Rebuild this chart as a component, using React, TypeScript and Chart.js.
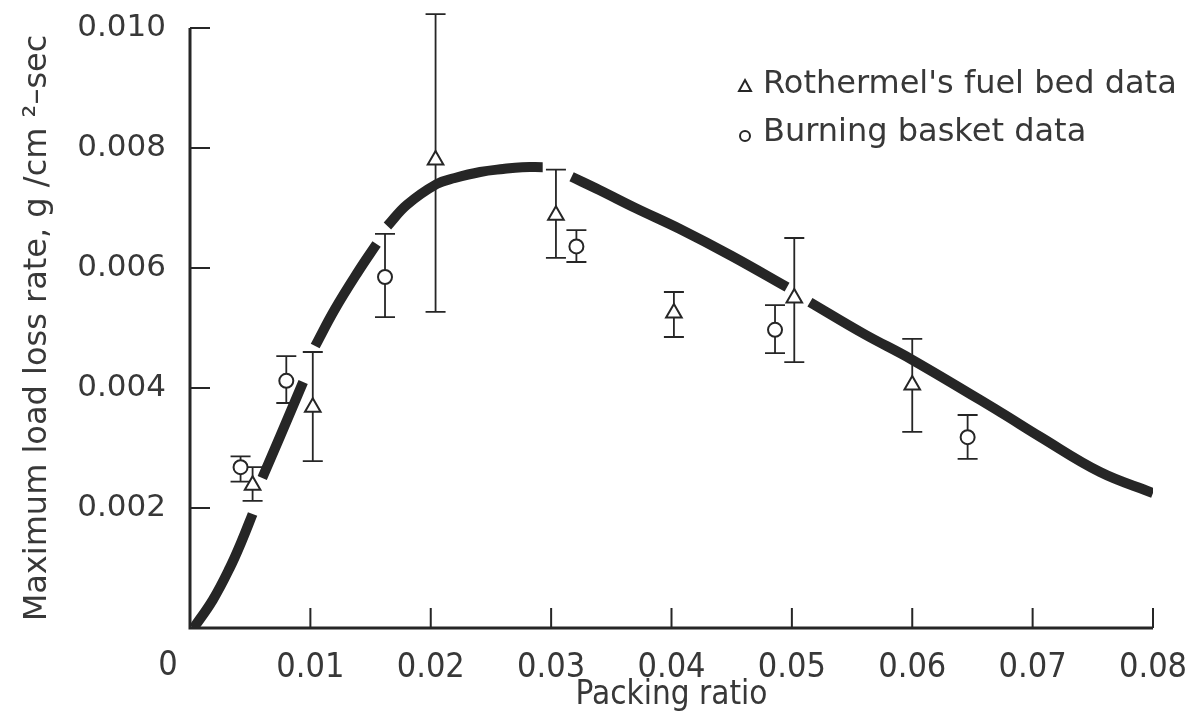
import React, { useEffect, useRef } from "react";
import { Chart, registerables } from "chart.js";
Chart.register(...registerables);

// Axis ticks
const xTickValues = [0, 0.01, 0.02, 0.03, 0.04, 0.05, 0.06, 0.07, 0.08];
const yTickValues = [0, 0.002, 0.004, 0.006, 0.008, 0.01];

// Rothermel's fuel bed data (triangles) with error bar limits
const rothX = [0.0052, 0.0102, 0.0204, 0.0304, 0.0402, 0.0502, 0.06];
const rothY = [0.00238, 0.00368, 0.0078, 0.00688, 0.00525, 0.0055, 0.00405];
const rothLo = [0.00212, 0.00278, 0.00527, 0.00617, 0.00485, 0.00443, 0.00327];
const rothHi = [0.00268, 0.0046, 0.01023, 0.00764, 0.0056, 0.0065, 0.00482];

// Burning basket data (circles) with error bar limits
const basketX = [0.0042, 0.008, 0.0162, 0.0321, 0.0486, 0.0646];
const basketY = [0.00268, 0.00412, 0.00585, 0.00636, 0.00497, 0.00318];
const basketLo = [0.00244, 0.00375, 0.00518, 0.0061, 0.00458, 0.00282];
const basketHi = [0.00286, 0.00453, 0.00657, 0.00663, 0.00538, 0.00355];

// Fitted curve (drawn with gaps; null = gap)
const curveX = [
  0.0003, 0.0019, 0.0033, 0.0043, 0.0052,
  0.0056,
  0.006, 0.0075, 0.0094,
  0.0099,
  0.0104, 0.012, 0.014, 0.0155,
  0.016,
  0.0164, 0.018, 0.0205, 0.022, 0.0241, 0.026, 0.0276, 0.0293,
  0.0305,
  0.0317, 0.034, 0.037, 0.0407, 0.045, 0.0496,
  0.0505,
  0.0515, 0.056, 0.06, 0.0673, 0.0706, 0.0756, 0.08,
];
const curveY = [
  0, 0.00047, 0.001, 0.00145, 0.0019,
  null,
  0.0025, 0.0032, 0.0041,
  null,
  0.0047, 0.0053, 0.00595, 0.0064,
  null,
  0.0067, 0.00705, 0.0074, 0.0075, 0.0076, 0.00765, 0.00768, 0.00768,
  null,
  0.00752, 0.0073, 0.007, 0.00665, 0.0062, 0.00568,
  null,
  0.00543, 0.0049, 0.00447, 0.0036, 0.00319, 0.0026, 0.00225,
];

const legendLabels = ["Rothermel's fuel bed data", "Burning basket data"];
const xTitle = "Packing ratio";
const yTitle = "Maximum load loss rate, g /cm \u00b2\u2013sec";

const INK = "#262626";
const TEXT = "#383838";
const FONT = "'DejaVu Sans', sans-serif";
const CONDENSED = "'DejaVu Sans Condensed', 'Liberation Sans Narrow', 'DejaVu Sans', sans-serif";

const errorBarsPlugin = {
  id: "errorBars",
  beforeDatasetsDraw(chart: any) {
    const ctx = chart.ctx;
    const xs = chart.scales.x;
    const ys = chart.scales.y;
    ctx.save();
    ctx.strokeStyle = INK;
    ctx.lineWidth = 1.8;
    chart.data.datasets.forEach((ds: any) => {
      if (!ds.lo) return;
      ds.data.forEach((p: any, i: number) => {
        const px = xs.getPixelForValue(p.x);
        const y1 = ys.getPixelForValue(ds.lo[i]);
        const y2 = ys.getPixelForValue(ds.hi[i]);
        const cap = 10;
        ctx.beginPath();
        ctx.moveTo(px, y1);
        ctx.lineTo(px, y2);
        ctx.moveTo(px - cap, y1);
        ctx.lineTo(px + cap, y1);
        ctx.moveTo(px - cap, y2);
        ctx.lineTo(px + cap, y2);
        ctx.stroke();
      });
    });
    ctx.restore();
  },
};

const axesPlugin = {
  id: "inwardAxes",
  afterDraw(chart: any) {
    const ctx = chart.ctx;
    const xs = chart.scales.x;
    const ys = chart.scales.y;
    const { left, bottom } = chart.chartArea;
    ctx.save();
    ctx.strokeStyle = INK;
    ctx.lineWidth = 3;
    ctx.beginPath();
    ctx.moveTo(left, ys.getPixelForValue(yTickValues[yTickValues.length - 1]));
    ctx.lineTo(left, bottom);
    ctx.lineTo(xs.getPixelForValue(xTickValues[xTickValues.length - 1]), bottom);
    ctx.stroke();
    ctx.lineWidth = 2;
    ctx.beginPath();
    yTickValues.forEach((v) => {
      if (v === 0) return;
      const py = ys.getPixelForValue(v);
      ctx.moveTo(left, py);
      ctx.lineTo(left + 20, py);
    });
    xTickValues.forEach((v) => {
      if (v === 0) return;
      const px = xs.getPixelForValue(v);
      ctx.moveTo(px, bottom);
      ctx.lineTo(px, bottom - 20);
    });
    ctx.stroke();
    // shared origin label
    ctx.fillStyle = TEXT;
    ctx.font = "34px " + CONDENSED;
    ctx.textAlign = "center";
    ctx.textBaseline = "middle";
    ctx.fillText("0", left - 22, bottom + 38);
    ctx.restore();
  },
};

const legendPlugin = {
  id: "innerLegend",
  afterDraw(chart: any) {
    const ctx = chart.ctx;
    const { left, top } = chart.chartArea;
    const mx = left + 555;
    const rows = [top + 57, top + 105];
    ctx.save();
    ctx.strokeStyle = INK;
    ctx.fillStyle = "#ffffff";
    ctx.lineWidth = 2;
    ctx.beginPath();
    ctx.moveTo(mx, rows[0] - 5);
    ctx.lineTo(mx + 6, rows[0] + 6);
    ctx.lineTo(mx - 6, rows[0] + 6);
    ctx.closePath();
    ctx.fill();
    ctx.stroke();
    ctx.beginPath();
    ctx.arc(mx, rows[1] + 3, 5, 0, Math.PI * 2);
    ctx.fill();
    ctx.stroke();
    ctx.fillStyle = TEXT;
    ctx.font = "32px " + FONT;
    ctx.textAlign = "left";
    ctx.textBaseline = "middle";
    ctx.fillText(legendLabels[0], mx + 18, rows[0]);
    ctx.fillText(legendLabels[1], mx + 18, rows[1]);
    ctx.restore();
  },
};

const noOverflow = (s: any) => {
  s.paddingTop = 0;
  s.paddingBottom = 0;
  s.paddingLeft = 0;
  s.paddingRight = 0;
};

export default function App() {
  const ref = useRef<HTMLCanvasElement | null>(null);
  useEffect(() => {
    document.body.style.margin = "0";
    const canvas = ref.current;
    if (!canvas) return;
    const chart = new Chart(canvas, {
      type: "scatter",
      data: {
        datasets: [
          {
            type: "line",
            label: "curve",
            data: curveX.map((x, i) => ({ x, y: curveY[i] })),
            borderColor: INK,
            borderWidth: 10,
            borderCapStyle: "butt",
            pointRadius: 0,
            tension: 0.4,
            spanGaps: false,
            fill: false,
            order: 3,
          } as any,
          {
            label: legendLabels[0],
            data: rothX.map((x, i) => ({ x, y: rothY[i] })),
            lo: rothLo,
            hi: rothHi,
            pointStyle: "triangle",
            pointRadius: 9,
            borderWidth: 2,
            borderColor: INK,
            backgroundColor: "#ffffff",
            order: 1,
          } as any,
          {
            label: legendLabels[1],
            data: basketX.map((x, i) => ({ x, y: basketY[i] })),
            lo: basketLo,
            hi: basketHi,
            pointStyle: "circle",
            pointRadius: 7,
            borderWidth: 2,
            borderColor: INK,
            backgroundColor: "#ffffff",
            order: 2,
          } as any,
        ],
      },
      options: {
        responsive: false,
        animation: false,
        layout: { padding: { left: 0, top: 28, right: 39, bottom: 0 } },
        plugins: {
          legend: { display: false },
          tooltip: { enabled: false },
        },
        scales: {
          x: {
            type: "linear",
            min: xTickValues[0],
            max: xTickValues[xTickValues.length - 1],
            afterBuildTicks: (s: any) => {
              s.ticks = xTickValues.map((v) => ({ value: v }));
            },
            afterFit: (s: any) => {
              s.height = 87;
              noOverflow(s);
            },
            grid: { display: false, drawTicks: false },
            border: { display: false },
            ticks: {
              color: TEXT,
              padding: 20,
              maxRotation: 0,
              autoSkip: false,
              font: { family: CONDENSED, size: 34 },
              callback: (v: any) => (v === 0 ? "" : Number(v).toFixed(2)),
            },
            title: {
              display: true,
              text: xTitle,
              color: TEXT,
              font: { family: CONDENSED, size: 33 },
              padding: { top: 0, bottom: 0 },
            },
          },
          y: {
            type: "linear",
            min: yTickValues[0],
            max: yTickValues[yTickValues.length - 1],
            afterBuildTicks: (s: any) => {
              s.ticks = yTickValues.map((v) => ({ value: v }));
            },
            afterFit: (s: any) => {
              s.width = 190;
              noOverflow(s);
            },
            grid: { display: false, drawTicks: false },
            border: { display: false },
            ticks: {
              color: TEXT,
              padding: 24,
              autoSkip: false,
              font: { family: FONT, size: 31 },
              callback: (v: any) => (v === 0 ? "" : Number(v).toFixed(3)),
            },
            title: {
              display: true,
              text: yTitle,
              color: TEXT,
              font: { family: FONT, size: 32 },
              padding: { top: 18, bottom: 0 },
            },
          },
        },
      },
      plugins: [errorBarsPlugin, axesPlugin, legendPlugin],
    });
    return () => chart.destroy();
  }, []);
  return <canvas ref={ref} width={1192} height={715} />;
}
